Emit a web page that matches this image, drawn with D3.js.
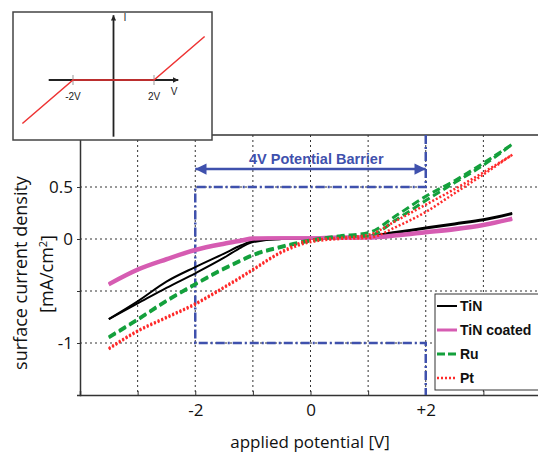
<!DOCTYPE html>
<html>
<head>
<meta charset="utf-8">
<script src="https://cdn.jsdelivr.net/npm/d3@7"></script>
<style>
  body { margin: 0; background: #fff; }
  svg { display: block; }
</style>
</head>
<body>
<div id="chart"></div>
<script>
// applied potential sweep points [V]
var voltage = [-3.5, -3, -2.5, -2, -1.5, -1.2, -1, -0.5, 0, 0.5, 1, 1.5, 2, 2.5, 3, 3.5];

// surface current density [mA/cm2], forward and backward sweep
var tinFwd = [-0.77, -0.62, -0.47, -0.33, -0.18, -0.08, -0.03, 0.0, 0.0, 0.01, 0.02, 0.06, 0.10, 0.14, 0.18, 0.24];
var tinBwd = [-0.77, -0.60, -0.41, -0.27, -0.14, -0.06, -0.02, 0.0, 0.01, 0.01, 0.03, 0.07, 0.11, 0.15, 0.19, 0.25];
var coatedFwd = [-0.44, -0.30, -0.20, -0.11, -0.05, -0.02, 0.0, 0.01, 0.01, 0.01, 0.01, 0.03, 0.06, 0.09, 0.13, 0.19];
var coatedBwd = [-0.43, -0.29, -0.19, -0.10, -0.04, -0.01, 0.01, 0.01, 0.01, 0.02, 0.02, 0.04, 0.07, 0.10, 0.14, 0.20];
var ruFwd = [-0.95, -0.78, -0.60, -0.44, -0.29, -0.21, -0.16, -0.08, -0.02, 0.02, 0.03, 0.19, 0.37, 0.54, 0.71, 0.91];
var ruBwd = [-0.94, -0.77, -0.59, -0.43, -0.28, -0.20, -0.15, -0.07, -0.01, 0.03, 0.06, 0.23, 0.41, 0.56, 0.73, 0.91];
var ptFwd = [-1.06, -0.89, -0.76, -0.63, -0.47, -0.37, -0.30, -0.13, -0.03, 0.0, 0.01, 0.12, 0.26, 0.44, 0.62, 0.81];
var ptBwd = [-1.05, -0.88, -0.75, -0.62, -0.46, -0.36, -0.29, -0.12, -0.01, 0.01, 0.04, 0.18, 0.33, 0.48, 0.64, 0.81];

var seriesNames = ["TiN", "TiN coated", "Ru", "Pt"];

// axis ticks
var xTicks = [-3, -2, -1, 0, 1, 2, 3];
var xTickLabels = ["", "-2", "", "0", "", "+2", ""];
var yTicks = [0.5, 0, -0.5, -1, -1.5];
var yTickLabels = ["0.5", "0", "", "-1", ""];

// 4V potential barrier outline (V, mA/cm2)
var barrierV = [2, 2, -2, -2, 2, 2];
var barrierJ = [1.0, 0.5, 0.5, -1, -1, -1.5];

// inset: ideal I-V with a +-2V barrier
var insetV = [-4.5, -2, 2, 4.5];
var insetI = [-2.15, 0, 0, 2.15];
var insetTicks = [-2, 2];
var insetTickLabels = ["-2V", "2V"];

var width = 538, height = 454;
var svg = d3.select("#chart").append("svg").attr("width", width).attr("height", height);
svg.append("rect").attr("width", width).attr("height", height).attr("fill", "#fff");

var x = d3.scaleLinear().domain([-4, 4]).range([80, 541]);
var y = d3.scaleLinear().domain([-1.5, 1.0]).range([395, 135]);

var tickFont = "'Open Sans', 'DejaVu Sans', sans-serif";

// grid
var grid = svg.append("g").attr("stroke", "#333").attr("stroke-width", 1).attr("stroke-dasharray", "2,3");
grid.selectAll("line.v").data(xTicks).enter().append("line")
  .attr("x1", d => x(d)).attr("x2", d => x(d)).attr("y1", y(1.0)).attr("y2", y(-1.5));
grid.selectAll("line.h").data(yTicks.filter(d => d > -1.5)).enter().append("line")
  .attr("y1", d => y(d)).attr("y2", d => y(d)).attr("x1", x(-4)).attr("x2", x(4));

// axes
var xAxis = d3.axisBottom(x).tickValues(xTicks).tickSize(-4).tickPadding(10)
  .tickFormat((d, i) => xTickLabels[i]);
var gx = svg.append("g").attr("transform", "translate(0," + y(-1.5) + ")").call(xAxis);
var yAxis = d3.axisLeft(y).tickValues(yTicks).tickSize(3).tickPadding(4)
  .tickFormat((d, i) => yTickLabels[i]);
var gy = svg.append("g").attr("transform", "translate(" + x(-4) + ",0)").call(yAxis);
[gx, gy].forEach(function (g) {
  g.select(".domain").attr("stroke", "#333").attr("stroke-width", 1.5);
  g.selectAll(".tick line").attr("stroke", "#333");
  g.selectAll(".tick text").attr("font-family", tickFont).attr("font-size", 17).attr("fill", "#111");
});
gx.selectAll(".tick text").attr("dy", "0.65em");
svg.append("line").attr("x1", x(-4)).attr("x2", x(4)).attr("y1", y(1.0)).attr("y2", y(1.0))
  .attr("stroke", "#333").attr("stroke-width", 1.5);

// axis titles
svg.append("text").attr("x", 310).attr("y", 448).attr("text-anchor", "middle")
  .attr("font-family", tickFont).attr("font-size", 17).attr("fill", "#111")
  .text("applied potential [V]");
var yt = svg.append("text").attr("transform", "translate(21,273) rotate(-90)")
  .attr("text-anchor", "middle").attr("font-family", tickFont).attr("font-size", 18).attr("fill", "#111");
yt.append("tspan").attr("x", 0).attr("dy", "0.35em").text("surface current density");
var yt2 = svg.append("text").attr("transform", "translate(47,274) rotate(-90)")
  .attr("text-anchor", "middle").attr("font-family", tickFont).attr("font-size", 18).attr("fill", "#111");
yt2.append("tspan").attr("dy", "0.35em").text("[mA/cm");
yt2.append("tspan").attr("font-size", 11).attr("dy", "-0.6em").text("2");
yt2.append("tspan").attr("dy", "0.4em").text("]");

// barrier outline and arrow
var blue = "#3f51ad";
var barrierLine = d3.line().x(d => x(d[0])).y(d => y(d[1]));
svg.append("path").datum(d3.zip(barrierV, barrierJ)).attr("d", barrierLine)
  .attr("fill", "none").attr("stroke", blue).attr("stroke-width", 2.5)
  .attr("stroke-dasharray", "9,3,2,3");

svg.append("defs").append("marker").attr("id", "head")
  .attr("viewBox", "0 0 10 10").attr("refX", 10).attr("refY", 5)
  .attr("markerWidth", 5).attr("markerHeight", 4.5).attr("orient", "auto-start-reverse")
  .attr("markerUnits", "strokeWidth")
  .append("path").attr("d", "M0,0L10,5L0,10z").attr("fill", blue);
svg.append("line").attr("x1", x(-2)).attr("x2", x(2)).attr("y1", 169).attr("y2", 169)
  .attr("stroke", blue).attr("stroke-width", 2.5)
  .attr("marker-start", "url(#head)").attr("marker-end", "url(#head)");
svg.append("text").attr("x", x(0.1)).attr("y", 164).attr("text-anchor", "middle")
  .attr("font-family", "'Liberation Sans', Arial, sans-serif").attr("font-weight", "bold")
  .attr("font-size", 14.5).attr("fill", blue).text("4V Potential Barrier");

// data curves
var styles = [
  { color: "#000000", width: 2, dash: null, fwd: tinFwd, bwd: tinBwd },
  { color: "#d65cb2", width: 3.5, dash: null, fwd: coatedFwd, bwd: coatedBwd },
  { color: "#14a03c", width: 3, dash: "8,4", fwd: ruFwd, bwd: ruBwd },
  { color: "#ff2a2a", width: 2.5, dash: "2,2", fwd: ptFwd, bwd: ptBwd }
];
var curve = d3.line().x(d => x(d[0])).y(d => y(d[1])).curve(d3.curveMonotoneX);
var curves = svg.append("g");
styles.forEach(function (s) {
  [s.fwd, s.bwd].forEach(function (vals) {
    curves.append("path").datum(d3.zip(voltage, vals)).attr("d", curve)
      .attr("fill", "none").attr("stroke", s.color).attr("stroke-width", s.width)
      .attr("stroke-dasharray", s.dash);
  });
});

// legend
var legend = svg.append("g");
legend.append("rect").attr("x", 435).attr("y", 294).attr("width", 110).attr("height", 96)
  .attr("fill", "#fff").attr("stroke", "#333").attr("stroke-width", 1);
var rows = legend.selectAll("g").data(seriesNames).enter().append("g")
  .attr("transform", (d, i) => "translate(0," + [306, 330, 354, 378][i] + ")");
rows.append("line").attr("x1", 437).attr("x2", 457)
  .attr("stroke", (d, i) => styles[i].color).attr("stroke-width", (d, i) => Math.min(styles[i].width, 3))
  .attr("stroke-dasharray", (d, i) => styles[i].dash ? (i == 2 ? "8,3" : "2,2") : null);
rows.append("text").attr("x", 460).attr("dy", "0.35em")
  .attr("font-family", "'Liberation Sans', Arial, sans-serif").attr("font-weight", "bold")
  .attr("font-size", 14).attr("fill", "#111").text(d => d);

// inset
var inset = svg.append("g");
inset.append("rect").attr("x", 13).attr("y", 12).attr("width", 199).attr("height", 128)
  .attr("fill", "#fff").attr("stroke", "#444").attr("stroke-width", 1.5);
var ix = d3.scaleLinear().domain([-2, 2]).range([73, 154]);
var iy = d3.scaleLinear().domain([-1, 1]).range([100.25, 59.75]);
inset.append("defs").append("marker").attr("id", "ihead")
  .attr("viewBox", "0 0 10 10").attr("refX", 10).attr("refY", 5)
  .attr("markerWidth", 3).attr("markerHeight", 3).attr("orient", "auto")
  .append("path").attr("d", "M0,0L10,5L0,10z").attr("fill", "#222");
inset.append("line").attr("x1", ix(-3.2)).attr("x2", ix(3.2)).attr("y1", iy(0)).attr("y2", iy(0))
  .attr("stroke", "#222").attr("stroke-width", 1.8).attr("marker-end", "url(#ihead)");
inset.append("line").attr("x1", ix(0)).attr("x2", ix(0)).attr("y1", iy(-2.8)).attr("y2", iy(3.2))
  .attr("stroke", "#222").attr("stroke-width", 1.8).attr("marker-end", "url(#ihead)");
inset.selectAll("line.t").data(insetTicks).enter().append("line")
  .attr("x1", d => ix(d)).attr("x2", d => ix(d)).attr("y1", iy(0) - 5).attr("y2", iy(0) + 5)
  .attr("stroke", "#999").attr("stroke-width", 1);
inset.append("path").datum(d3.zip(insetV, insetI))
  .attr("d", d3.line().x(d => ix(d[0])).y(d => iy(d[1])))
  .attr("fill", "none").attr("stroke", "#ee3333").attr("stroke-width", 1.5);
var insetFont = "'Liberation Sans', Arial, sans-serif";
inset.selectAll("text.t").data(insetTicks).enter().append("text")
  .attr("x", d => ix(d)).attr("y", 100).attr("text-anchor", "middle")
  .attr("font-family", insetFont).attr("font-size", 10).attr("fill", "#222")
  .text((d, i) => insetTickLabels[i]);
inset.append("text").attr("x", 174).attr("y", 95).attr("text-anchor", "middle")
  .attr("font-family", insetFont).attr("font-size", 10).attr("fill", "#222").text("V");
inset.append("text").attr("x", 125).attr("y", 21).attr("text-anchor", "middle")
  .attr("font-family", "'DejaVu Sans', sans-serif").attr("font-size", 10).attr("fill", "#333").text("I");
</script>
</body>
</html>
